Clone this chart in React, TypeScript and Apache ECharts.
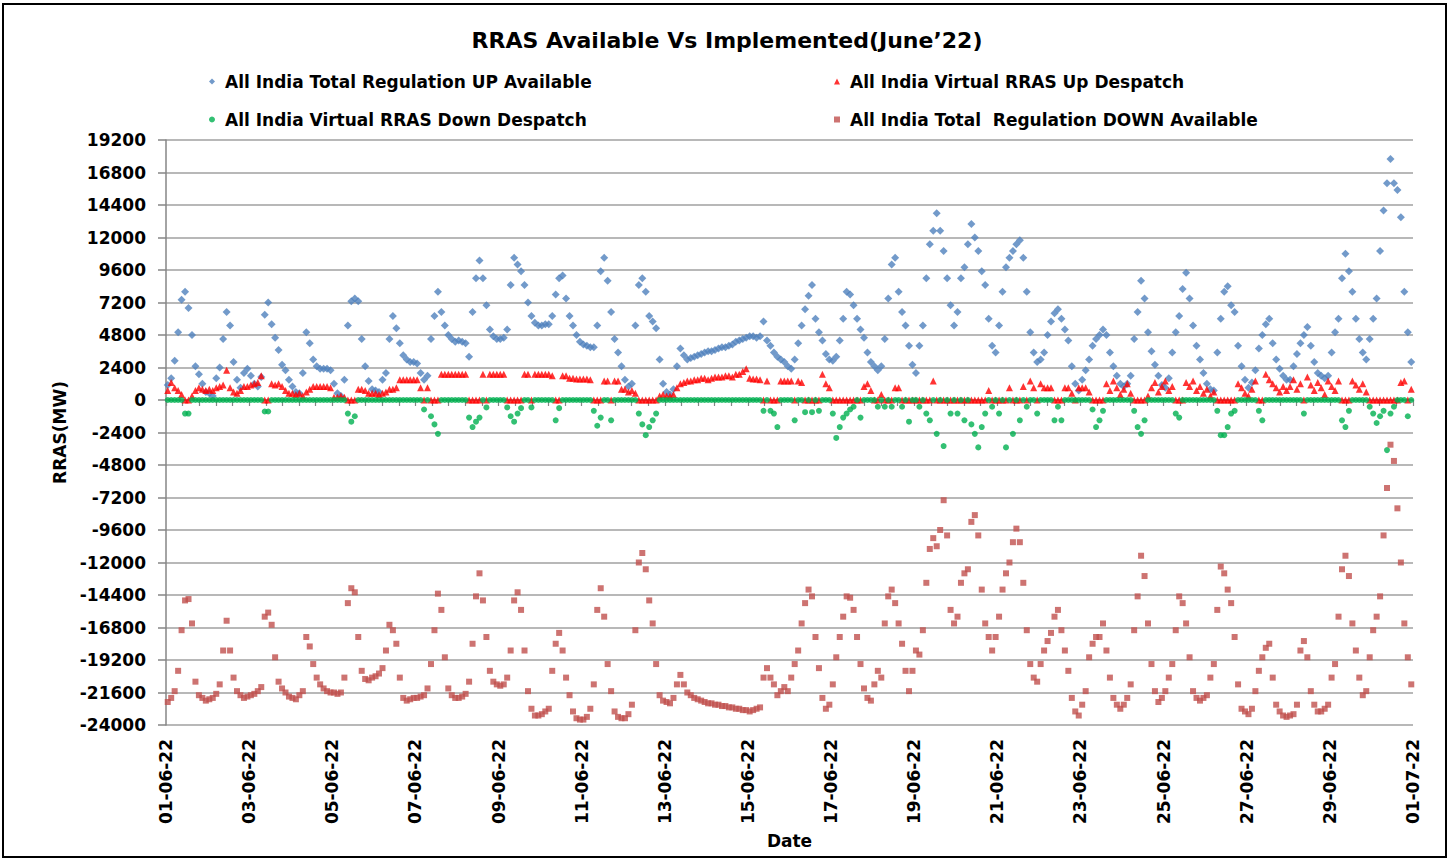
import React, { useEffect, useRef } from 'react';
import * as echarts from 'echarts';

const FONT = 'DejaVu Sans';

const dateLabels = [
  '01-06-22', '03-06-22', '05-06-22', '07-06-22', '09-06-22', '11-06-22', '13-06-22', '15-06-22',
  '17-06-22', '19-06-22', '21-06-22', '23-06-22', '25-06-22', '27-06-22', '29-06-22', '01-07-22',
];

const seriesNames = [
  'All India Total Regulation UP Available',
  'All India Virtual RRAS Up Despatch',
  'All India Virtual RRAS Down Despatch',
  'All India Total  Regulation DOWN Available',
];

// 2-hourly readings (12 per day), 1 June .. 30 June 2022
const upAvailable = [
  1100, 1600, 2900, 5000, 7400, 8000, 6800, 4800, 2500, 1900, 1200, 600,
  500, 300, 1600, 2400, 4500, 6500, 5500, 2800, 1500, 900, 2000, 2300,
  1800, 1200, 1000, 1700, 6300, 7200, 5600, 4600, 3700, 2600, 2200, 1500,
  1000, 600, 500, 2000, 5000, 4200, 3000, 2500, 2300, 2300, 2300, 2200,
  1200, 500, 300, 1500, 5500, 7300, 7500, 7300, 4500, 2500, 1400, 800,
  700, 600, 1500, 2000, 4500, 6200, 5300, 4200, 3300, 3000, 2800, 2800,
  2700, 2000, 1500, 1800, 4500, 6200, 8000, 6500, 5500, 4800, 4500, 4300,
  4400, 4300, 4200, 3200, 6500, 9000, 10300, 9000, 7000, 5200, 4700, 4500,
  4500, 4600, 5200, 8500, 10500, 10000, 9500, 8500, 7200, 6200, 5700, 5500,
  5500, 5600, 5600, 6200, 7800, 9000, 9200, 7500, 6200, 5500, 4800, 4300,
  4100, 4000, 3900, 3900, 5500, 9500, 10500, 8800, 6500, 4500, 3500, 2500,
  1500, 1000, 1200, 5500, 8500, 9000, 8000, 6200, 5800, 5300, 3000, 1200,
  600, 400, 800, 2500, 3800, 3300, 3000, 3100, 3200, 3300, 3400, 3500,
  3600, 3600, 3700, 3800, 3900, 3900, 4000, 4100, 4300, 4400, 4500, 4600,
  4700, 4700, 4600, 4700, 5800, 4400, 4000, 3500, 3200, 3000, 2800, 2500,
  2300, 3000, 4200, 5500, 6700, 7700, 8500, 6000, 5000, 4400, 3400, 3000,
  2900, 3200, 4400, 6000, 8000, 7800, 7000, 6000, 5200, 4600, 3500, 2800,
  2500, 2200, 2500, 4500, 7500, 10000, 10500, 8000, 6500, 5500, 4000, 2600,
  2000, 4000, 5500, 9000, 11500, 12500, 13800, 12500, 11000, 9000, 7000, 5500,
  6500, 9000, 9800, 11500, 13000, 12000, 11000, 9500, 8500, 6000, 4000, 3500,
  5500, 8000, 9800, 10500, 11000, 11500, 11800, 10500, 8000, 5000, 3500, 2800,
  3000, 3500, 4800, 5800, 6400, 6700, 6000, 5200, 4400, 2500, 1200, 700,
  1500, 2200, 3000, 4000, 4500, 4800, 5200, 4800, 3500, 2500, 1800, 1200,
  1000, 1200, 1800, 4500, 6500, 8800, 7500, 5000, 3600, 2600, 1800, 1100,
  900, 1600, 3500, 5000, 6200, 8200, 9400, 7500, 5500, 4000, 3000, 2000,
  1200, 800, 700, 3500, 6000, 8000, 8400, 7000, 6500, 4000, 2500, 1500,
  900, 1300, 2200, 3800, 4800, 5600, 6000, 4200, 3000, 2300, 1800, 1500,
  1500, 2500, 3400, 4200, 4800, 5400, 4000, 2800, 2000, 1800, 1600, 1800,
  3500, 5000, 6000, 9000, 10800, 9500, 8000, 6000, 4500, 3500, 3000, 4500,
  6000, 7500, 11000, 14000, 16000, 17800, 16000, 15500, 13500, 8000, 5000, 2800,
];

const upDespatch = [
  700, 1300, 900, 700, 400, 0, 0, 300, 700, 900, 800, 700,
  800, 700, 900, 1000, 1100, 2200, 900, 600, 500, 700, 1000, 1000,
  1100, 1200, 1300, 1800, 0, 0, 1200, 1100, 1200, 1000, 700, 500,
  500, 400, 500, 300, 600, 800, 1000, 1000, 1000, 1000, 1000, 900,
  200, 200, 300, 200, 0, 0, 0, 800, 800, 700, 500, 500,
  500, 400, 500, 600, 800, 800, 900, 1500, 1500, 1500, 1500, 1500,
  1500, 900, 0, 900, 0, 0, 0, 1900, 1900, 1900, 1900, 1900,
  1900, 1900, 1900, 0, 0, 0, 0, 1900, 0, 1900, 1900, 1900,
  1900, 1900, 0, 0, 0, 0, 0, 1900, 1900, 0, 1900, 1900,
  1900, 1900, 1900, 1800, 0, 0, 1800, 1800, 1600, 1600, 1550, 1550,
  1550, 1550, 1500, 0, 0, 0, 1400, 1400, 0, 1400, 1400, 800,
  800, 600, 700, 500, 0, 0, 0, 0, 0, 0, 300, 400,
  300, 300, 400, 900, 1200, 1300, 1400, 1400, 1500, 1500, 1600, 1600,
  1500, 1600, 1700, 1700, 1700, 1800, 1800, 1700, 1900, 1900, 2100, 2300,
  1600, 1550, 1550, 1500, 0, 1400, 0, 0, 0, 1400, 1400, 1400,
  1400, 0, 1400, 1300, 0, 0, 0, 0, 0, 1900, 1200, 900,
  0, 0, 0, 0, 0, 0, 0, 0, 0, 1000, 1200, 700,
  0, 0, 400, 0, 0, 0, 900, 900, 0, 0, 0, 0,
  0, 0, 0, 0, 0, 1400, 0, 0, 0, 0, 0, 0,
  0, 0, 0, 0, 0, 0, 0, 0, 0, 700, 0, 0,
  0, 0, 0, 900, 0, 0, 0, 1000, 0, 1400, 900, 0,
  1200, 900, 900, 900, 0, 0, 0, 900, 900, 500, 0, 900,
  900, 900, 600, 0, 0, 0, 0, 1200, 700, 1400, 900, 400,
  800, 1200, 500, 0, 0, 0, 0, 300, 900, 1300, 600, 1000,
  1400, 700, 1000, 0, 0, 0, 1300, 1000, 1400, 700, 1000, 500,
  800, 300, 600, 0, 0, 0, 0, 0, 0, 1200, 900, 500,
  300, 800, 1400, 0, 0, 1900, 1500, 1200, 900, 600, 1000, 700,
  1000, 1500, 800, 1200, 0, 1700, 1100, 700, 1300, 900, 400, 1400,
  1000, 700, 1400, 0, 0, 0, 1400, 1100, 800, 1200, 600, 0,
  0, 0, 0, 0, 0, 0, 0, 0, 1300, 1400, 0, 800,
];

const downDespatch = [
  0, 0, 0, 0, 0, -1000, -1000, 0, 0, 0, 0, 0,
  0, 0, 0, 0, 0, 0, 0, 0, 0, 0, 0, 0,
  0, 0, 0, 0, -850, -850, 0, 0, 0, 0, 0, 0,
  0, 0, 0, 0, 0, 0, 0, 0, 0, 0, 0, 0,
  0, 0, 0, 0, -1000, -1600, -1200, 0, 0, 0, 0, 0,
  0, 0, 0, 0, 0, 0, 0, 0, 0, 0, 0, 0,
  0, 0, -700, 0, -1200, -1800, -2500, 0, 0, 0, 0, 0,
  0, 0, 0, -1300, -2000, -1600, -1300, 0, -550, 0, 0, 0,
  0, 0, -550, -1200, -1600, -1000, -600, 0, 0, -550, 0, 0,
  0, 0, 0, 0, -1500, -600, 0, 0, 0, 0, 0, 0,
  0, 0, 0, -800, -1900, -1300, 0, 0, -1500, 0, 0, 0,
  0, 0, 0, 0, -1000, -1800, -2600, -2000, -1500, -1000, 0, 0,
  0, 0, 0, 0, 0, 0, 0, 0, 0, 0, 0, 0,
  0, 0, 0, 0, 0, 0, 0, 0, 0, 0, 0, 0,
  0, 0, 0, 0, -800, 0, -800, -1000, -2000, 0, 0, 0,
  0, -1500, 0, 0, -900, 0, -900, 0, -800, 0, 0, 0,
  -1000, -2800, -2000, -1300, -1000, -700, -500, 0, -1300, 0, 0, 0,
  0, -500, 0, -500, 0, -500, 0, 0, -500, 0, -1600, 0,
  0, -500, 0, -1000, -1500, 0, -2500, 0, -3400, 0, -1000, 0,
  -1000, 0, -1500, 0, -1800, -2500, -3500, -2000, -1000, 0, -500, 0,
  -1000, 0, -3500, 0, -2500, 0, -1500, 0, -500, 0, 0, -1000,
  0, 0, 0, 0, -1500, -500, -1500, 0, 0, 0, 0, 0,
  0, 0, 0, -700, -2000, -1500, -800, 0, 0, 0, 0, 0,
  0, 0, 0, -800, -2000, -2500, -1500, 0, 0, 0, 0, 0,
  0, 0, 0, -1000, -1300, 0, 0, 0, 0, 0, 0, 0,
  0, 0, 0, -800, -2600, -2600, -2000, -1000, -800, 0, 0, 0,
  0, 0, 0, -800, -1500, 0, 0, 0, 0, 0, 0, 0,
  0, 0, 0, 0, -1000, 0, 0, 0, 0, 0, 0, 0,
  0, 0, 0, -1500, -2000, -800, 0, 0, 0, 0, 0, -500,
  -1000, -1700, -1200, -800, -3700, -1000, -500, 0, 0, 0, -1200, 0,
];

const downAvailable = [
  -22300, -22000, -21500, -20000, -17000, -14800, -14700, -16500, -20800, -21800, -22000, -22200,
  -22100, -22000, -21700, -21000, -18500, -16300, -18500, -20500, -21500, -21800, -22000, -21900,
  -21800, -21700, -21500, -21200, -16000, -15700, -16600, -19000, -20800, -21300, -21600, -21900,
  -22000, -22100, -21800, -21500, -17500, -18200, -19500, -20500, -21000, -21300, -21500, -21600,
  -21600, -21700, -21600, -20500, -15000, -13900, -14200, -17500, -20000, -20600, -20700, -20500,
  -20400, -20200, -19800, -18500, -16600, -17000, -18000, -20500, -22000, -22200, -22100, -22000,
  -22000, -21900, -21800, -21300, -19500, -17000, -14300, -15500, -19000, -21300, -21800, -22000,
  -22000, -21900, -21700, -20800, -18000, -14500, -12800, -14800, -17500, -20000, -20800, -21000,
  -21100, -21000, -20500, -18500, -14800, -14200, -15500, -18500, -21500, -22800, -23300, -23300,
  -23200, -23000, -22800, -20000, -18000, -17200, -18500, -20500, -21800, -23000, -23500, -23600,
  -23600, -23400, -22800, -21000, -15500, -13900, -16000, -19500, -21500, -23000, -23400, -23500,
  -23500, -23200, -22500, -17000, -12000, -11300, -12500, -14800, -16500, -19500, -21800, -22200,
  -22300, -22400, -22000, -21000, -20300, -21000, -21600, -21800, -22000, -22100, -22200, -22300,
  -22400, -22400, -22500, -22500, -22600, -22600, -22700, -22700, -22800, -22800, -22900, -22900,
  -23000, -22900, -22800, -22700, -20500, -19800, -20500, -21000, -21800, -21500, -21200, -21500,
  -20500, -19500, -18500, -16500, -15000, -14000, -14500, -17500, -19800, -22000, -22800, -22500,
  -21000, -19000, -17500, -16000, -14500, -14600, -15500, -17500, -19500, -21300, -22000, -22200,
  -21000, -20000, -20500, -16500, -14500, -14000, -15000, -16500, -18000, -20000, -21500, -20000,
  -18500, -18800, -17000, -13500, -11000, -10200, -10800, -9600, -7400, -10000, -15500, -16500,
  -16000, -13500, -12800, -12500, -9000, -8500, -10000, -14000, -16500, -17500, -18500, -17500,
  -16000, -14000, -12800, -12000, -10500, -9500, -10500, -13500, -17000, -19500, -20500, -20800,
  -19500, -18500, -17800, -17200, -16000, -15500, -17000, -18500, -20000, -22000, -23000, -23300,
  -22500, -21500, -19000, -18000, -17500, -17500, -16500, -18500, -20500, -22000, -22500, -22800,
  -22500, -22000, -21000, -17000, -14500, -11500, -13000, -16500, -19500, -21500, -22300, -22000,
  -21500, -20500, -19500, -17000, -14500, -15000, -16500, -19000, -21500, -22000, -22200, -22000,
  -21800, -20500, -19500, -15500, -12300, -12800, -14000, -15000, -17500, -21000, -22800, -23000,
  -23200, -22800, -21500, -20000, -19000, -18300, -18000, -20500, -22500, -23000, -23300, -23400,
  -23300, -23200, -22500, -18500, -17800, -19000, -21500, -22500, -23000, -23000, -22800, -22500,
  -20500, -19500, -16000, -12500, -11500, -13000, -16500, -18500, -20500, -21800, -21500, -19000,
  -17000, -16000, -14500, -10000, -6500, -3300, -4500, -8000, -12000, -16500, -19000, -21000,
];

const SLOTS_PER_DAY = 12;
// x = time in days since 01-06-22 00:00 (centre of each 2-hour slot)
const toPoints = (vals: number[]) => vals.map((v, i) => [(i + 0.5) / SLOTS_PER_DAY, v]);

const boldText = { fontFamily: FONT, fontWeight: 'bold' as const, color: '#000' };

export default function App() {
  const ref = useRef<HTMLDivElement>(null);

  useEffect(() => {
    if (!ref.current) return;
    const chart = echarts.init(ref.current, undefined, { renderer: 'svg' });
    const axisGray = '#868686';
    const legendBase = {
      orient: 'vertical',
      top: 68,
      itemGap: 21,
      itemWidth: 6,
      itemHeight: 6,
      selectedMode: false,
      textStyle: { ...boldText, fontSize: 17, padding: [0, 0, 0, 5] },
    };
    const option: any = {
      animation: false,
      backgroundColor: '#ffffff',
      textStyle: { fontFamily: FONT },
      title: {
        text: 'RRAS Available Vs Implemented(June\u201922)',
        left: 'center',
        top: 24,
        textStyle: { ...boldText, fontSize: 22 },
      },
      legend: [
        { ...legendBase, left: 204, data: [seriesNames[0], seriesNames[2]] },
        { ...legendBase, left: 829, data: [seriesNames[1], seriesNames[3]] },
      ],
      grid: { left: 166, right: 41, top: 140, bottom: 138, containLabel: false },
      xAxis: [
        {
          type: 'value',
          min: 0,
          max: 30,
          interval: 2,
          position: 'bottom',
          axisLine: { show: false, onZero: false },
          axisTick: { show: false },
          splitLine: { show: false },
          axisLabel: {
            rotate: 90,
            margin: 14,
            fontSize: 17,
            ...boldText,
            formatter: (v: number) => dateLabels[Math.round(v / 2)] ?? '',
          },
          name: 'Date',
          nameLocation: 'middle',
          nameGap: 107,
          nameTextStyle: { ...boldText, fontSize: 17 },
        },
        {
          type: 'value',
          min: 0,
          max: 30,
          interval: 0.4,
          position: 'bottom',
          axisLine: {
            show: true,
            onZero: true,
            onZeroAxisIndex: 0,
            lineStyle: { color: axisGray, width: 1.5 },
          },
          axisTick: { show: true, length: 6, lineStyle: { color: axisGray, width: 1.2 } },
          axisLabel: { show: false },
          splitLine: { show: false },
        },
      ],
      yAxis: {
        type: 'value',
        min: -24000,
        max: 19200,
        interval: 2400,
        axisLine: { show: true, onZero: false, lineStyle: { color: axisGray, width: 1.5 } },
        axisTick: { show: true, length: 8, lineStyle: { color: axisGray, width: 1.5 } },
        splitLine: { show: true, lineStyle: { color: '#a0a0a0', width: 1.5 } },
        axisLabel: { margin: 20, fontSize: 17, ...boldText, formatter: (v: number) => String(v) },
        name: 'RRAS(MW)',
        nameLocation: 'middle',
        nameGap: 96,
        nameTextStyle: { ...boldText, fontSize: 17 },
      },
      series: [
        {
          name: seriesNames[0],
          type: 'scatter',
          data: toPoints(upAvailable),
          symbol: 'diamond',
          symbolSize: 8,
          itemStyle: { color: '#4F81BD' },
        },
        {
          name: seriesNames[1],
          type: 'scatter',
          data: toPoints(upDespatch),
          symbol: 'triangle',
          symbolSize: 7,
          itemStyle: { color: '#FF0000' },
        },
        {
          name: seriesNames[2],
          type: 'scatter',
          data: toPoints(downDespatch),
          symbol: 'circle',
          symbolSize: 6,
          itemStyle: { color: '#00B050' },
        },
        {
          name: seriesNames[3],
          type: 'scatter',
          data: toPoints(downAvailable),
          symbol: 'rect',
          symbolSize: 6,
          itemStyle: { color: '#C0504D' },
        },
      ],
      graphic: [
        {
          type: 'rect',
          silent: true,
          z: 100,
          shape: { x: 3, y: 4, width: 1443, height: 853 },
          style: { fill: 'none', stroke: '#000', lineWidth: 2 },
        },
      ],
    };
    chart.setOption(option);
    return () => chart.dispose();
  }, []);

  return (
    <div
      ref={ref}
      style={{ position: 'fixed', left: 0, top: 0, width: 1454, height: 863, background: '#fff' }}
    />
  );
}
